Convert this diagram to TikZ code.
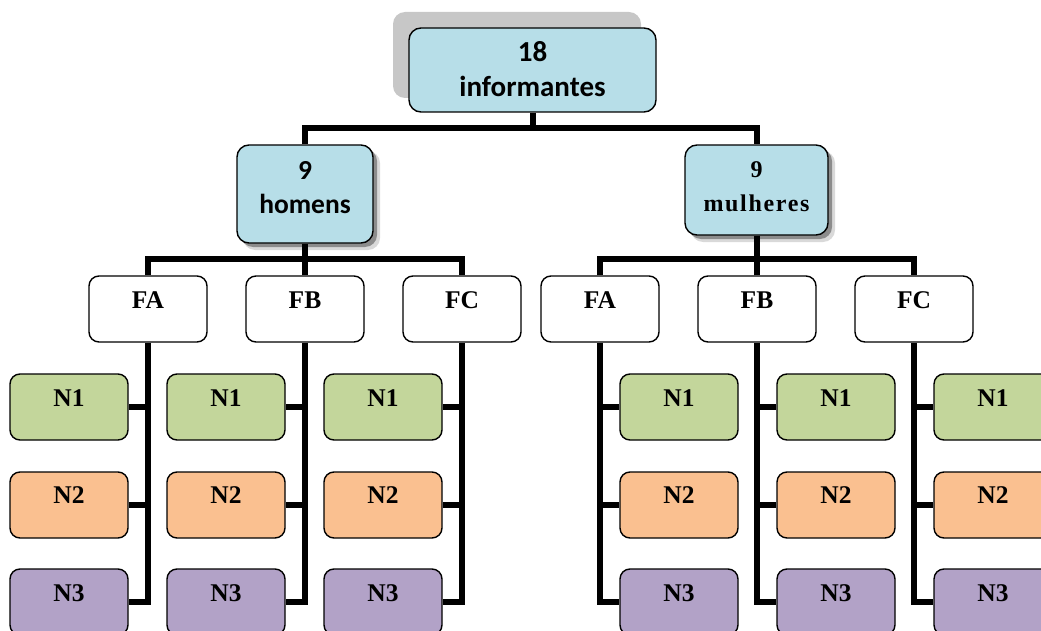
\documentclass[tikz,border=0pt]{standalone}
\usepackage{fontspec}
\setmainfont{Liberation Serif}
\newfontfamily\calib{Carlito}
\newfontfamily\spacedserif[LetterSpace=7]{Liberation Serif}
\definecolor{tealbox}{HTML}{B7DEE8}
\definecolor{ngreen}{HTML}{C3D69B}
\definecolor{norange}{HTML}{FAC090}
\definecolor{npurple}{HTML}{B2A2C7}
\tikzset{
  base/.style={draw=black, line width=1.4pt, rounded corners=10pt, inner sep=0pt},
  facbox/.style={base, fill=white, minimum width=118pt, minimum height=66pt},
  nbox/.style={base, minimum width=118pt, minimum height=66pt},
  conn/.style={line width=6pt, line join=miter},
  serftxt/.style={inner sep=0pt, font=\fontsize{25.5}{30}\selectfont\bfseries},
  caltxt/.style={inner sep=0pt, font=\fontsize{27.5}{30}\selectfont\calib\bfseries},
}
\begin{document}
\begin{tikzpicture}[x=1pt,y=-1pt]
\useasboundingbox (0,0) rectangle (1041,631);
\clip (0,0) rectangle (1041,631);
% shadows
\fill[black!22, rounded corners=12pt] (393,12) rectangle (641,98);
\fill[black!15, rounded corners=12pt] (243,151) rectangle (380,250);
\fill[black!45, rounded corners=12pt] (241,149) rectangle (377,247);
\fill[black!15, rounded corners=12pt] (691,151) rectangle (835,242);
\fill[black!45, rounded corners=12pt] (689,149) rectangle (832,239);
% main boxes
\node[base, rounded corners=12pt, fill=tealbox, minimum width=247pt, minimum height=84pt] (top) at (532.5,70) {};
\node[caltxt, font=\fontsize{29}{32}\selectfont\calib\bfseries] (t18) at (532.5,52) {18};
\node[caltxt, font=\fontsize{29}{32}\selectfont\calib\bfseries] (tinf) at (532.5,86) {informantes};
\node[base, rounded corners=12pt, fill=tealbox, minimum width=136pt, minimum height=98pt] (hom) at (305,194) {};
\node[caltxt] (th9) at (305,170) {9};
\node[caltxt] (thom) at (305,204) {homens};
\node[base, rounded corners=12pt, fill=tealbox, minimum width=143pt, minimum height=90pt] (mul) at (756.5,190) {};
\node[serftxt, font=\fontsize{24}{28}\selectfont\bfseries] (tm9) at (756.5,170) {9};
\node[serftxt, font=\fontsize{24}{28}\selectfont\spacedserif\bfseries] (tmul) at (756.5,203) {mulheres};
% top connectors
\coordinate (j0) at (532.5,128);
\coordinate (jL) at (305,259);
\coordinate (jR) at (756.5,259);
\draw[conn] (top) -- (j0);
\draw[conn] (hom) |- (j0) -| (mul);
% factor and level boxes
\foreach \nm/\x/\lab/\side in {LA/148/FA/-1, LB/305/FB/-1, LC/462/FC/-1, RA/600/FA/1, RB/757/FB/1, RC/914/FC/1} {
  \node[facbox] (\nm) at (\x,309) {};
  \node[serftxt] (\nm t) at (\x,300) {\lab};
  \node[nbox, fill=ngreen] (\nm1) at ({\x+\side*79},407) {};
  \node[serftxt] (\nm1t) at ({\x+\side*79},398) {N1};
  \node[nbox, fill=norange] (\nm2) at ({\x+\side*79},505) {};
  \node[serftxt] (\nm2t) at ({\x+\side*79},495) {N2};
  \node[nbox, fill=npurple] (\nm3) at ({\x+\side*79},602) {};
  \node[serftxt] (\nm3t) at ({\x+\side*79},593) {N3};
  \draw[conn] (\nm) |- (\nm3);
  \draw[conn] (\nm.south |- \nm1) -- (\nm1);
  \draw[conn] (\nm.south |- \nm2) -- (\nm2);
}
% group connectors
\draw[conn] (hom) -- (jL);
\draw[conn] (LA) |- (jL) -| (LC);
\draw[conn] (LB) -- (jL);
\draw[conn] (mul) -- (jR);
\draw[conn] (RA) |- (jR) -| (RC);
\draw[conn] (RB) -- (RB |- jR);
\end{tikzpicture}
\end{document}
